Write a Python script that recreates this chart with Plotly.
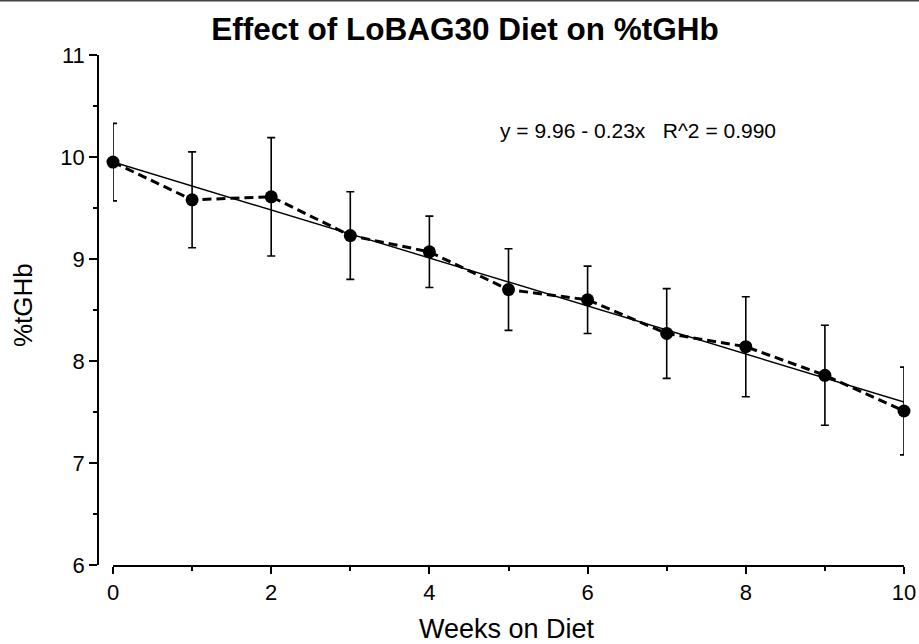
import numpy as np
import plotly.graph_objects as go

# Data
weeks = [0, 1, 2, 3, 4, 5, 6, 7, 8, 9, 10]
tghb = [9.95, 9.58, 9.61, 9.23, 9.07, 8.70, 8.60, 8.27, 8.14, 7.86, 7.51]
sd = [0.38, 0.47, 0.58, 0.43, 0.35, 0.40, 0.33, 0.44, 0.49, 0.49, 0.43]
x_ticks = [0, 2, 4, 6, 8, 10]
y_ticks = [6, 7, 8, 9, 10, 11]
eq_text = "y = 9.96 - 0.23x\u00a0\u00a0\u00a0R^2 = 0.990"

slope, intercept = np.polyfit(weeks, tghb, 1)
fit_x = [weeks[0], weeks[-1]]
fit_y = [intercept + slope * v for v in fit_x]

FONT = "Liberation Sans, Arial, Helvetica, sans-serif"
W, H = 919, 644
L, R, T, B = 98, 15, 55, 79
plot_w = W - L - R
plot_h = H - T - B

fig = go.Figure()

fig.add_trace(go.Scatter(
    x=fit_x, y=fit_y, mode="lines",
    line=dict(color="black", width=1.4),
    cliponaxis=False, hoverinfo="skip", showlegend=False,
))

fig.add_trace(go.Scatter(
    x=weeks, y=tghb, mode="lines+markers",
    line=dict(color="black", width=3, dash="9px,5px"),
    marker=dict(color="black", size=13),
    error_y=dict(type="data", array=sd, visible=True, color="black",
                 thickness=1.6, width=4),
    cliponaxis=False, showlegend=False,
))

fig.update_layout(
    width=W, height=H,
    margin=dict(l=L, r=R, t=T, b=B, autoexpand=False),
    paper_bgcolor="white", plot_bgcolor="white",
    font=dict(family=FONT, color="black"),
    title=dict(text="<b>Effect of LoBAG30 Diet on %tGHb</b>",
               font=dict(family=FONT, size=31.5, color="black"),
               xref="container", x=0.506, xanchor="center",
               yref="container", y=1 - 29 / H, yanchor="middle"),
    xaxis=dict(
        domain=[15 / plot_w, 1], range=[0, 10], automargin=False,
        tickvals=x_ticks, ticktext=[str(v) for v in x_ticks],
        ticks="outside", ticklen=7, tickwidth=1.5, tickcolor="black",
        showline=True, linecolor="black", linewidth=1.5,
        showgrid=False, zeroline=False,
        tickfont=dict(family=FONT, size=22, color="black"),
        minor=dict(tickvals=[1, 3, 5, 7, 9], ticks="outside", ticklen=4,
                   tickwidth=1.5, tickcolor="black", showgrid=False),
    ),
    yaxis=dict(
        anchor="free", position=0, range=[6, 11], automargin=False,
        tickvals=y_ticks, ticktext=[str(v) for v in y_ticks],
        ticks="outside", ticklen=8, tickwidth=1.5, tickcolor="black",
        showline=True, linecolor="black", linewidth=1.5,
        showgrid=False, zeroline=False,
        tickfont=dict(family=FONT, size=22, color="black"),
        minor=dict(tickvals=[6.5, 7.5, 8.5, 9.5, 10.5], ticks="outside",
                   ticklen=4, tickwidth=1.5, tickcolor="black", showgrid=False),
    ),
    annotations=[
        dict(text=eq_text, xref="paper", yref="paper",
             x=(638 - L) / plot_w, y=(H - B - 130) / plot_h,
             xanchor="center", yanchor="middle", showarrow=False,
             font=dict(family=FONT, size=21, color="black")),
        dict(text="Weeks on Diet", xref="paper", yref="paper",
             x=(507 - L) / plot_w, y=(H - B - 629) / plot_h,
             xanchor="center", yanchor="middle", showarrow=False,
             font=dict(family=FONT, size=27, color="black")),
        dict(text="%tGHb", xref="paper", yref="paper",
             x=(23 - L) / plot_w, y=(H - B - 305) / plot_h,
             xanchor="center", yanchor="middle", showarrow=False,
             textangle=-90,
             font=dict(family=FONT, size=26, color="black")),
    ],
    shapes=[
        dict(type="line", xref="paper", yref="paper",
             x0=-L / plot_w, x1=(W - L) / plot_w,
             y0=(H - B - 0.8) / plot_h, y1=(H - B - 0.8) / plot_h,
             line=dict(color="#444444", width=1.6)),
    ],
)

fig.write_html(
    "out.html",
    config={"displayModeBar": False},
    post_script="document.body.style.margin='0';document.body.style.overflow='hidden';",
)
